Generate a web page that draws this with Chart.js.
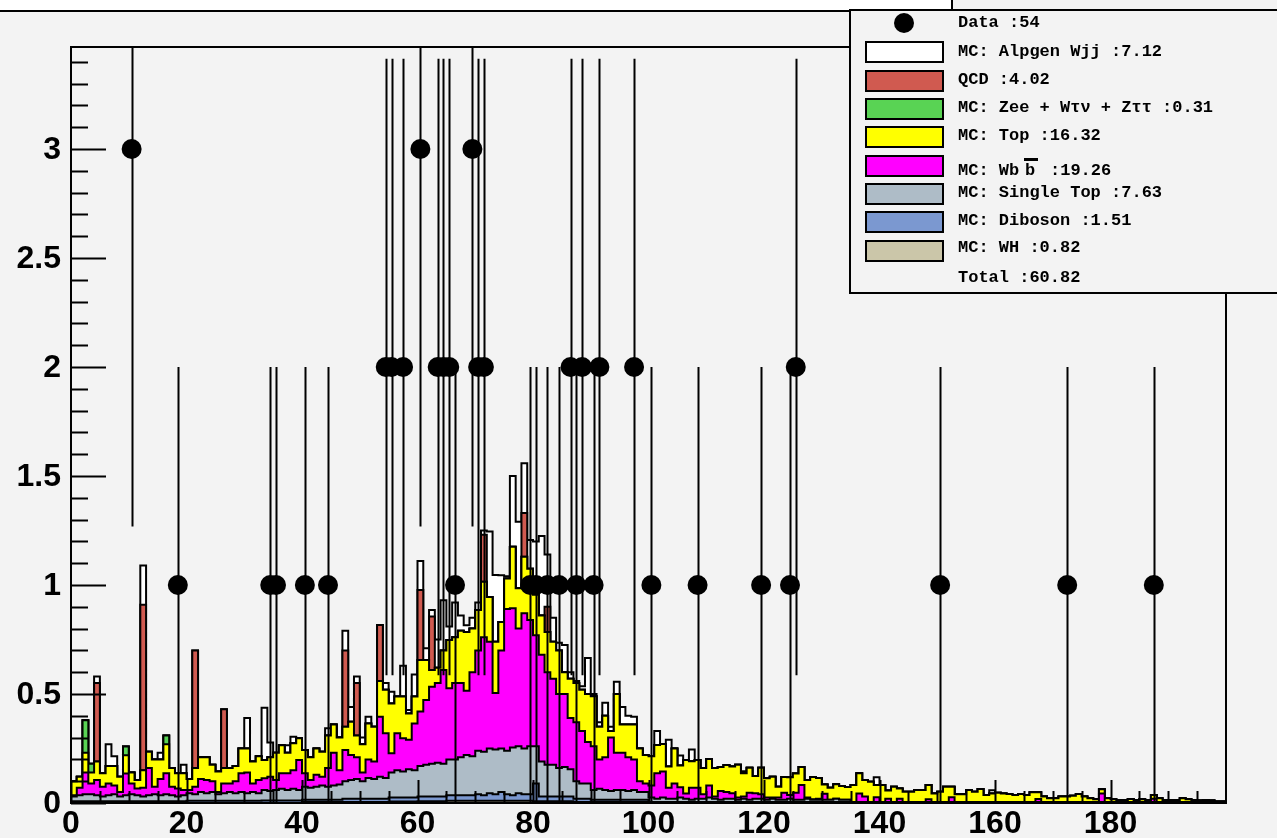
<!DOCTYPE html>
<html>
<head>
<meta charset="utf-8">
<script src="https://cdn.jsdelivr.net/npm/chart.js@4.4.1/dist/chart.umd.min.js"></script>
<style>
  html, body { margin: 0; padding: 0; background: #f3f3f3; overflow: hidden; }
  canvas { display: block; }
</style>
</head>
<body>
<canvas id="histo" width="1277" height="838"></canvas>
<script>
// 200 bins of width 1 between 0 and 200, rows of 20 bins
const xMin = 0;
const xMax = 200;
const yMax = 3.468;

const dataCounts = [
  0,0,0,0,0,0,0,0,0,0, 3,0,0,0,0,0,0,0,1,0,
  0,0,0,0,0,0,0,0,0,0, 0,0,0,0,1,1,0,0,0,0,
  1,0,0,0,1,0,0,0,0,0, 0,0,0,0,2,2,0,2,0,0,
  3,0,0,2,2,2,1,0,0,3, 2,2,0,0,0,0,0,0,0,1,
  1,0,1,0,1,0,2,1,2,0, 1,2,0,0,0,0,0,2,0,0,
  1,0,0,0,0,0,0,0,1,0, 0,0,0,0,0,0,0,0,0,1,
  0,0,0,0,1,2,0,0,0,0, 0,0,0,0,0,0,0,0,0,0,
  0,0,0,0,0,0,0,0,0,0, 1,0,0,0,0,0,0,0,0,0,
  0,0,0,0,0,0,0,0,0,0, 0,0,1,0,0,0,0,0,0,0,
  0,0,0,0,0,0,0,1,0,0, 0,0,0,0,0,0,0,0,0,0
];

const whVals = [
  0,0,0,0,0,0,0,0,0,0, 0,0,0,0,0,0,0,0,0,0,
  0,0,0,0,0,0,0,0,0,0, 0,0,0,0,0,0,0,0,0,0,
  .005,.005,.005,.005,.005,.005,.005,.005,.005,.005, .005,.005,.005,.005,.005,.007,.007,.007,.007,.007,
  .008,.008,.008,.008,.008,.01,.01,.01,.01,.01, .01,.01,.01,.01,.01,.01,.01,.01,.01,.01,
  .008,.008,.008,.008,.008,.008,.008,.005,.005,.005, .005,.005,.005,.005,.005,.005,.005,.005,.005,.005,
  0,0,0,0,0,0,0,0,0,0, 0,0,0,0,0,0,0,0,0,0,
  0,0,0,0,0,0,0,0,0,0, 0,0,0,0,0,0,0,0,0,0,
  0,0,0,0,0,0,0,0,0,0, 0,0,0,0,0,0,0,0,0,0,
  0,0,0,0,0,0,0,0,0,0, 0,0,0,0,0,0,0,0,0,0,
  0,0,0,0,0,0,0,0,0,0, 0,0,0,0,0,0,0,0,0,0
];

const dibosonVals = [
  .008,.008,.008,.008,.008,.008,.008,.008,.008,.008, .008,.008,.008,.008,.008,.008,.008,.008,.008,.008,
  .01,.01,.01,.01,.01,.01,.01,.01,.01,.01, .01,.01,.01,.012,.012,.012,.012,.012,.012,.012,
  .01,.01,.01,.01,.01,.01,.01,.015,.015,.015, .015,.015,.015,.015,.015,.018,.018,.018,.018,.018,
  .022,.022,.022,.022,.022,.025,.025,.025,.025,.025, .03,.025,.035,.03,.04,.03,.025,.035,.03,.03,
  .082,.022,.022,.022,.022,.022,.022,.015,.015,.015, .01,.01,.01,.01,.01,.01,.01,.01,.01,.01,
  .005,.005,.005,.005,.005,.005,.005,.005,.005,.005, .005,.005,.005,.005,.005,.005,.005,.005,.005,.005,
  .005,.005,.005,.005,.005,.005,.005,.005,.005,.005, .005,.005,.005,.005,.005,.001,.001,.001,.001,.001,
  .001,.001,.001,.001,.001,.001,.001,.001,.001,.001, .001,.001,.001,.001,.001,.001,.001,.001,.001,.001,
  .001,.001,.001,.001,.001,.001,.001,.001,.001,.001, .001,.001,.001,.001,.001,.001,.001,.001,.001,.001,
  .001,.001,.001,.001,.001,.001,.001,.001,.001,.001, .001,.001,.001,.001,.001,.001,.001,.001,.001,.001
];

const singleTopVals = [
  .022,.027,.032,.032,.027,.022,.027,.032,.022,.027, .032,.027,.022,.027,.032,.027,.032,.027,.022,.027,
  .035,.03,.04,.035,.04,.03,.035,.04,.035,.04, .035,.04,.035,.048,.043,.048,.053,.048,.053,.048,
  .06,.055,.06,.065,.06,.065,.07,.08,.085,.09, .08,.095,.09,.1,.095,.115,.125,.12,.13,.125,
  .14,.145,.15,.155,.15,.165,.165,.175,.185,.18, .2,.2,.205,.205,.2,.2,.22,.215,.21,.22,
  .17,.16,.145,.145,.13,.135,.125,.08,.07,.07, .045,.05,.045,.04,.045,.045,.04,.045,.035,.035,
  .02,.015,.02,.015,.015,.02,.015,.01,.015,.015, .02,.015,.01,.015,.015,.01,.015,.01,.015,.015,
  .01,.015,.01,.01,.015,.01,.01,.015,.01,.01, .01,.01,.015,.01,.01,.004,.004,.004,.004,.004,
  .004,.004,.004,.004,.004,.004,.004,.004,.004,.004, .004,.004,.004,.004,.004,.004,.004,.004,.004,.004,
  .004,.004,.004,.004,.004,.004,.004,.004,.004,.004, .004,.004,.004,.004,.004,.004,.004,.004,.004,.004,
  .004,.004,.004,.004,.004,.004,.004,.004,.004,.004, .004,.004,.004,.004,.004,.004,.004,.004,.004,.004
];

const wbbVals = [
  .005,.035,.10,.05,.07,.045,.055,.04,.02,.10, .05,.032,.04,.125,.035,.075,.096,.04,.037,.025,
  .015,.035,.06,.06,.05,.01,.045,.04,.055,.086, .095,.04,.06,.053,.065,.045,.071,.076,.085,.137,
  .061,.035,.055,.04,.085,.15,.065,.143,.115,.10, .04,.085,.08,.276,.205,.088,.17,.152,.135,.215,
  .25,.297,.353,.365,.43,.326,.35,.34,.295,.385, .46,.525,.49,.26,.45,.65,.638,.54,.62,.58,
  .51,.49,.425,.395,.34,.335,.235,.27,.24,.19, .2,.135,.15,.245,.17,.17,.155,.14,.05,.04,
  .055,.116,.12,.05,.07,.047,.024,.055,.05,.02, .055,.01,.04,.03,.025,.01,.01,.032,.025,.02,
  .01,.005,.01,.032,.017,.032,.067,.005,.002,.005, .028,0,0,0,0,0,.039,.025,0,.021,
  0,.015,0,.015,0,0,0,0,.012,0, 0,0,.021,0,0,0,0,0,0,0,
  0,0,0,0,0,0,0,.013,0,0, 0,0,0,0,0,0,0,0,.039,0,
  0,0,0,0,0,0,0,.015,0,0, 0,0,0,0,0,0,0,0,0,0
];

const topVals = [
  .065,.05,.09,.05,.085,.061,.08,.09,.07,.084, .05,.038,.08,.075,.125,.09,.134,.085,.069,.076,
  .05,.085,.10,.105,.075,.095,.07,.07,.07,.114, .11,.10,.11,.084,.09,.125,.129,.094,.124,.10,
  .107,.105,.12,.115,.15,.13,.15,.107,.153,.10, .13,.165,.16,.164,.20,.229,.168,.191,.12,.123,
  .236,.184,.077,.07,.09,.222,.21,.24,.27,.2, .185,.255,.205,.235,.13,.14,.283,.185,.26,.235,
  .185,.18,.185,.17,.2,.1,.18,.18,.19,.22, .23,.15,.19,.03,.27,.13,.15,.16,.15,.13,
  .135,.13,.126,.097,.16,.1,.153,.122,.127,.12, .122,.13,.11,.124,.122,.15,.106,.115,.079,.122,
  .088,.095,.05,.072,.081,.088,.083,.08,.102,.095, .042,.055,.066,.063,.058,.078,.092,.075,.093,.057,
  .078,.037,.07,.047,.047,.047,.055,.055,.066,.039, .047,.07,.049,.035,.035,.055,.047,.059,.032,.039,
  .042,.039,.036,.032,.036,.032,.044,.031,.025,.017, .017,.025,.025,.028,.036,.025,.017,.012,.019,.017,
  .012,.009,.009,.013,.009,.012,.009,.017,.017,.009, .009,.009,.017,.012,.009,.006,.009,.006,.002,.002
];

const zeeVals = [
  0,0,.15,.04,0,0,0,0,0,.04, 0,0,0,0,0,0,.04,0,0,0,
  0,0,0,0,0,0,0,0,0,0, 0,0,0,0,0,0,0,0,0,0,
  0,0,0,0,0,0,0,0,0,0, 0,0,0,0,0,0,0,0,0,0,
  0,0,0,0,0,0,0,0,0,0, 0,0,0,0,0,0,0,0,0,0,
  0,0,0,0,0,0,0,0,0,0, 0,0,0,0,0,0,0,0,0,0,
  0,0,0,0,0,0,0,0,0,0, 0,0,0,0,0,0,0,0,0,0,
  0,0,0,0,0,0,0,0,0,0, 0,0,0,0,0,0,0,0,0,0,
  0,0,0,0,0,0,0,0,0,0, 0,0,0,0,0,0,0,0,0,0,
  0,0,0,0,0,0,0,0,0,0, 0,0,0,0,0,0,0,0,0,0,
  0,0,0,0,0,0,0,0,0,0, 0,0,0,0,0,0,0,0,0,0
];

const qcdVals = [
  0,0,0,0,.36,0,0,0,0,0, 0,0,.76,0,0,0,0,0,0,0,
  0,.54,0,0,0,0,.27,0,0,0, 0,0,0,0,0,0,0,0,0,0,
  0,0,0,0,0,0,0,.35,0,.24, 0,0,0,.256,0,0,0,0,0,0,
  .321,0,.245,0,0,0,0,0,0,0, 0,.215,0,0,0,0,0,0,.2,0,
  0,0,.115,0,0,0,0,0,0,0, 0,0,0,0,0,0,0,0,0,0,
  0,0,0,0,0,0,0,0,0,0, 0,0,0,0,0,0,0,0,0,0,
  0,0,0,0,0,0,0,0,0,0, 0,0,0,0,0,0,0,0,0,0,
  0,0,0,0,0,0,0,0,0,0, 0,0,0,0,0,0,0,0,0,0,
  0,0,0,0,0,0,0,0,0,0, 0,0,0,0,0,0,0,0,0,0,
  0,0,0,0,0,0,0,0,0,0, 0,0,0,0,0,0,0,0,0,0
];

const wjjVals = [
  0,0,0,0,.03,0,.1,.045,0,0, 0,0,.18,0,0,.03,0,0,0,.04,
  0,0,0,0,0,0,0,0,0,0, .14,0,0,.24,.067,0,0,.035,.03,0,
  0,0,0,0,.033,0,0,.09,.067,.03, .03,.031,0,0,.03,.053,0,.142,.017,.102,
  .133,.054,.03,.13,.23,.062,.16,.07,.03,.05, .035,.02,.3,.306,.215,.01,.324,.305,.228,.131,
  .245,.365,.24,.11,.035,.125,.03,.01,.015,.165, .01,.02,.06,.02,.056,.08,.04,.036,0,0,
  0,.064,0,.123,0,.046,0,.053,0,0, 0,0,0,0,0,0,.01,0,0,0,
  0,0,0,0,0,0,0,0,0,0, 0,0,0,0,0,0,0,0,0,.035,
  0,0,0,0,0,0,0,0,0,0, 0,0,0,0,0,0,0,0,0,.015,
  0,0,0,0,0,0,0,0,0,0, 0,0,0,0,0,0,0,0,0,0,
  0,0,0,0,0,0,0,0,0,0, 0,0,0,0,0,0,0,0,0,0
];

const yTickLabels = ['0', '0.5', '1', '1.5', '2', '2.5', '3'];
const xTickLabels = ['0', '20', '40', '60', '80', '100', '120', '140', '160', '180'];

// legend text, top to bottom
const legendLabels = [
  'Data :54',
  'MC: Alpgen Wjj :7.12',
  'QCD :4.02',
  'MC: Zee + W\u03c4\u03bd + Z\u03c4\u03c4 :0.31',
  'MC: Top :16.32',
  'MC: Wbb :19.26',
  'MC: Single Top :7.63',
  'MC: Diboson :1.51',
  'MC: WH :0.82',
  'Total :60.82'
];

// stack order, bottom first
const layers = [
  { vals: whVals,        color: '#cbc6a9' },
  { vals: dibosonVals,   color: '#7b98d0' },
  { vals: singleTopVals, color: '#aebcc7' },
  { vals: wbbVals,       color: '#ff00ff' },
  { vals: topVals,       color: '#ffff00' },
  { vals: zeeVals,       color: '#59d354' },
  { vals: qcdVals,       color: '#d05a50' },
  { vals: wjjVals,       color: '#ffffff' }
];

const nBins = dataCounts.length;
const binW = (xMax - xMin) / nBins;

let running = new Array(nBins).fill(0);
const datasets = layers.map((layer, k) => {
  running = running.map((v, i) => v + layer.vals[i]);
  const pts = running.map((v, i) => ({ x: xMin + i * binW, y: v }));
  pts.push({ x: xMax, y: running[nBins - 1] });
  return {
    type: 'line',
    data: pts,
    stepped: 'before',
    fill: k === 0 ? 'origin' : '-1',
    backgroundColor: layer.color,
    borderColor: '#000',
    borderWidth: 2,
    pointRadius: 0,
    tension: 0
  };
});

const dataPts = [];
dataCounts.forEach((c, i) => {
  if (c > 0) dataPts.push({ x: xMin + (i + 0.5) * binW, y: c });
});
const dataIndex = datasets.length;
datasets.push({
  type: 'scatter',
  data: dataPts,
  showLine: false,
  pointRadius: 10,
  pointBackgroundColor: '#000',
  pointBorderWidth: 0,
  order: -1
});

const errorBars = {
  id: 'errorBars',
  beforeDatasetDraw(chart, args) {
    if (args.index !== dataIndex) return;
    const { ctx, chartArea, scales } = chart;
    ctx.save();
    ctx.beginPath();
    ctx.rect(chartArea.left, chartArea.top, chartArea.right - chartArea.left, chartArea.bottom - chartArea.top);
    ctx.clip();
    ctx.strokeStyle = '#000';
    ctx.lineWidth = 2;
    dataPts.forEach(p => {
      const e = Math.sqrt(p.y);
      const x = Math.round(scales.x.getPixelForValue(p.x)) + 0.5;
      ctx.beginPath();
      ctx.moveTo(x, scales.y.getPixelForValue(p.y - e));
      ctx.lineTo(x, scales.y.getPixelForValue(p.y + e));
      ctx.stroke();
    });
    ctx.restore();
  }
};

const frameAxes = {
  id: 'frameAxes',
  afterDatasetsDraw(chart) {
    const { ctx, chartArea: a, scales } = chart;
    ctx.save();
    ctx.strokeStyle = '#000';
    ctx.lineWidth = 2;
    ctx.strokeRect(a.left, a.top, a.right - a.left, a.bottom - a.top);

    ctx.beginPath();
    for (let t = 0; t <= 34; t++) {
      const y = Math.round(scales.y.getPixelForValue(t / 10)) + 0.5;
      const len = t % 5 === 0 ? 35 : 17;
      ctx.moveTo(a.left, y);
      ctx.lineTo(a.left + len, y);
    }
    for (let v = 0; v < xMax; v += 5) {
      const x = Math.round(scales.x.getPixelForValue(v)) + 0.5;
      const len = v % 20 === 0 ? 23 : 12;
      ctx.moveTo(x, a.bottom);
      ctx.lineTo(x, a.bottom - len);
    }
    ctx.stroke();

    ctx.fillStyle = '#000';
    ctx.font = 'bold 32px "Liberation Sans", Arial, sans-serif';
    ctx.textAlign = 'right';
    ctx.textBaseline = 'middle';
    yTickLabels.forEach(lbl => {
      ctx.fillText(lbl, a.left - 10, scales.y.getPixelForValue(parseFloat(lbl)) + 1);
    });
    ctx.textAlign = 'center';
    ctx.textBaseline = 'top';
    xTickLabels.forEach(lbl => {
      ctx.fillText(lbl, scales.x.getPixelForValue(parseFloat(lbl)), a.bottom + 5);
    });
    ctx.restore();
  },
  afterDraw(chart) {
    const ctx = chart.ctx;
    ctx.save();
    // title box (text lies above the visible area)
    ctx.fillStyle = '#fff';
    ctx.fillRect(0, 0, 952, 11);
    ctx.strokeStyle = '#000';
    ctx.lineWidth = 2;
    ctx.beginPath();
    ctx.moveTo(0, 11);
    ctx.lineTo(952, 11);
    ctx.lineTo(952, 0);
    ctx.stroke();

    // legend box
    ctx.fillStyle = '#f3f3f3';
    ctx.fillRect(850, 10, 440, 283);
    ctx.strokeRect(850, 10, 440, 283);

    const rowY = [23, 52, 81, 109, 137, 166, 194, 222, 251, 278];
    const textY = [23, 52, 80, 108, 136, 171, 193, 221, 248, 278];
    const swatchColors = [null].concat(layers.slice().reverse().map(l => l.color)).concat([null]);

    ctx.beginPath();
    ctx.fillStyle = '#000';
    ctx.arc(904, rowY[0], 10, 0, Math.PI * 2);
    ctx.fill();

    for (let r = 1; r <= 8; r++) {
      ctx.fillStyle = swatchColors[r];
      ctx.fillRect(866, rowY[r] - 10, 77, 20);
      ctx.strokeRect(866, rowY[r] - 10, 77, 20);
    }

    ctx.fillStyle = '#000';
    ctx.font = 'bold 17px "Liberation Mono", "DejaVu Sans Mono", monospace';
    ctx.textAlign = 'left';
    ctx.textBaseline = 'middle';
    legendLabels.forEach((lbl, r) => {
      if (r === 5) {
        ctx.fillText('MC: Wb', 958, textY[r]);
        ctx.fillText('b', 1025, textY[r]);
        ctx.fillText(':19.26', 1050, textY[r]);
        ctx.fillRect(1024, 158, 14, 3);
      } else {
        ctx.fillText(lbl, 958, textY[r]);
      }
    });
    ctx.restore();
  }
};

new Chart(document.getElementById('histo'), {
  type: 'line',
  data: { datasets },
  options: {
    responsive: false,
    animation: false,
    layout: { padding: { left: 71, right: 51, top: 47, bottom: 35 } },
    scales: {
      x: { type: 'linear', min: xMin, max: xMax, display: false },
      y: { type: 'linear', min: 0, max: yMax, display: false }
    },
    plugins: {
      legend: { display: false },
      tooltip: { enabled: false }
    }
  },
  plugins: [errorBars, frameAxes]
});
</script>
</body>
</html>
